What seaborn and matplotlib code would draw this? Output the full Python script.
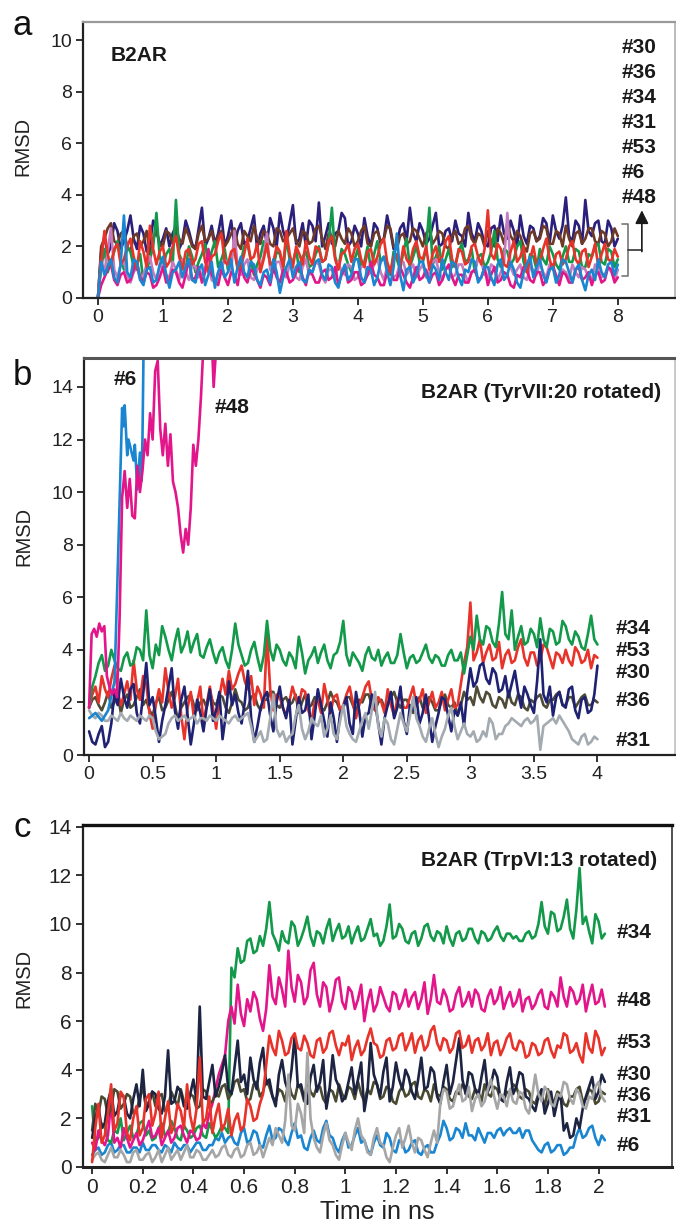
import numpy as np
import matplotlib
matplotlib.use("Agg")
import matplotlib.pyplot as plt
import seaborn as sns

# ---------------- data ----------------
# Panel a : B2AR, 0-8 ns, one value every 0.05 ns
STEP_A = 0.05
a30 = [0.0,1.8, 2.4,1.7, 2.0,2.9, 2.6,1.9, 2.2,2.6, 3.2,2.3, 1.9,2.8, 2.5,1.8, 2.1,3.0, 2.7,2.0,
       2.3,2.7, 2.0,2.5, 2.8,1.9, 2.2,3.0, 2.6,2.1, 1.9,2.7, 3.5,2.0, 2.3,2.8, 2.1,2.5, 3.2,2.0,
       2.4,3.0, 2.0,2.6, 2.9,2.1, 2.2,2.7, 3.2,1.9, 2.5,2.8, 2.1,3.1, 2.7,2.0, 3.3,2.6, 2.2,2.9,
       3.6,2.1, 2.3,2.9, 2.0,3.0, 2.8,2.2, 3.7,2.0, 2.4,2.9, 2.1,2.5, 2.6,3.3, 3.1,2.0, 2.2,2.8,
       2.5,2.0, 3.1,2.4, 2.0,2.9, 2.7,2.1, 2.3,3.2, 2.6,1.9, 2.1,2.7, 2.9,2.2, 3.5,2.5, 2.2,2.9,
       2.6,2.1, 2.3,2.8, 3.3,2.0, 2.1,2.6, 2.7,2.2, 3.0,2.5, 2.4,2.0, 3.3,2.5, 2.2,2.9, 2.6,2.1,
       2.0,2.7, 2.8,2.2, 3.2,2.5, 2.3,3.0, 2.6,2.0, 3.2,2.4, 2.1,2.8, 2.7,2.2, 2.4,3.1, 2.9,2.1,
       3.2,2.6, 2.3,2.8, 3.9,2.4, 2.2,3.0, 2.8,2.1, 3.8,2.6, 2.4,2.9, 3.0,2.2, 2.1,3.0, 2.7,2.0, 2.3]
a36 = [0.0,2.0, 2.3,2.7, 2.9,2.2, 2.1,2.5, 2.6,2.0, 1.8,2.4, 2.5,2.0, 2.2,2.6, 1.7,2.3, 2.6,2.1,
       2.0,2.6, 2.5,2.1, 2.7,2.3, 2.1,2.7, 2.4,2.0, 1.9,2.5, 2.8,2.2, 2.3,2.6, 2.0,2.4, 2.6,2.0,
       2.2,2.5, 2.7,2.1, 1.9,2.6, 2.4,2.2, 2.8,2.3, 2.1,2.6, 2.5,2.1, 2.0,2.7, 2.6,2.2, 2.3,2.5,
       2.7,2.2, 2.0,2.6, 2.5,2.1, 2.2,2.7, 2.8,2.3, 1.9,2.5, 2.4,2.0, 2.6,2.3, 2.1,2.7, 2.5,2.0,
       2.2,2.6, 2.8,2.1, 2.0,2.5, 2.6,2.2, 2.3,2.8, 2.7,2.0, 1.9,2.4, 2.5,2.1, 2.2,2.7, 2.6,2.3,
       2.0,2.5, 2.7,2.1, 2.3,2.6, 2.5,2.0, 1.9,2.4, 2.6,2.1, 2.2,2.7, 2.8,2.3, 2.1,2.5, 2.4,2.0,
       2.6,2.2, 2.0,2.7, 2.5,2.1, 2.9,2.4, 2.2,2.6, 2.4,2.0, 1.8,2.5, 2.6,2.2, 2.3,2.8, 2.7,2.1,
       2.1,2.6, 2.5,2.0, 2.8,2.3, 2.0,2.5, 2.6,2.1, 2.3,2.7, 2.7,2.2, 2.1,2.6, 2.5,2.0, 2.2,2.7, 2.4]
a34 = [0.0,1.2, 1.9,1.0, 1.4,1.8, 2.2,1.5, 1.1,2.0, 1.8,1.2, 1.3,1.7, 0.6,1.1, 1.5,2.0, 3.3,1.6,
       1.2,1.7, 1.9,1.3, 3.8,1.7, 1.4,1.1, 2.0,1.6, 1.0,1.4, 1.7,2.1, 1.3,1.8, 2.2,1.2, 1.5,1.9,
       1.1,1.6, 1.8,1.2, 1.4,2.0, 2.1,1.5, 0.9,1.3, 1.6,2.2, 1.9,1.4, 1.2,1.8, 1.7,1.1, 2.3,1.5,
       1.4,1.9, 1.0,1.6, 1.8,1.2, 1.3,1.7, 2.0,1.4, 1.5,2.1, 3.5,1.6, 1.2,1.9, 1.7,1.3, 1.0,1.5,
       1.9,1.2, 1.4,2.0, 1.1,1.7, 2.2,1.4, 1.6,1.2, 0.9,1.8, 1.5,1.1, 1.8,2.3, 1.2,1.6, 2.0,1.4,
       1.4,1.9, 3.5,1.3, 1.6,2.0, 1.1,1.5, 1.9,1.2, 1.3,1.8, 2.1,1.4, 1.5,1.9, 1.0,1.6, 1.7,1.2,
       1.4,1.8, 2.6,1.5, 1.2,1.9, 1.8,1.3, 1.5,2.0, 2.2,1.4, 1.0,1.7, 1.6,1.1, 1.9,1.5, 1.3,2.0,
       1.7,1.3, 1.1,1.6, 2.0,1.4, 1.4,1.9, 1.8,1.2, 1.2,1.7, 1.6,2.0, 2.1,1.4, 1.3,1.9, 1.8,1.2, 1.5]
a31 = [0.0,1.5, 1.0,1.8, 2.7,1.1, 0.8,1.3, 1.4,0.9, 0.6,1.0, 1.2,0.7, 0.9,1.3, 1.6,1.0, 0.7,1.2,
       1.3,0.9, 0.8,1.4, 1.1,0.7, 1.5,1.0, 0.7,1.3, 1.2,0.8, 0.9,1.2, 1.4,0.7, 0.6,1.0, 1.1,1.5,
       1.3,1.0, 2.6,1.2, 0.9,1.3, 1.5,0.8, 0.7,1.1, 1.2,1.6, 2.5,1.1, 1.0,1.4, 1.4,0.9, 0.8,1.3,
       1.2,0.8, 0.7,1.2, 1.5,0.9, 1.0,1.4, 1.3,0.8, 0.6,1.1, 1.1,0.7, 1.4,1.0, 0.9,1.3, 1.2,0.7,
       0.8,1.2, 1.3,0.9, 1.0,1.3, 1.5,1.0, 0.7,1.2, 1.2,0.8, 0.9,1.4, 1.4,0.9, 1.1,1.3, 0.8,1.1,
       1.3,0.8, 1.0,1.4, 1.5,1.0, 0.7,1.1, 1.2,0.8, 0.9,1.3, 1.3,0.9, 0.6,1.0, 1.1,1.5, 1.4,0.9,
       0.8,1.3, 1.2,0.7, 1.0,1.4, 3.3,1.2, 0.9,1.1, 1.3,0.8, 0.7,1.2, 1.1,0.9, 1.4,1.0, 0.8,1.3,
       1.2,0.9, 0.6,1.1, 1.0,0.7, 1.3,1.0, 0.8,1.2, 1.1,0.8, 0.7,1.3, 1.2,0.8, 0.9,1.2, 1.0,0.7, 1.1]
a53 = [0.0,1.4, 2.6,1.7, 1.2,1.9, 2.1,1.3, 1.5,2.0, 2.3,1.6, 1.1,2.2, 1.8,1.2, 2.8,1.9, 1.3,1.8,
       2.0,1.2, 1.4,2.0, 2.4,1.6, 1.1,1.8, 1.9,1.3, 1.5,2.1, 2.2,1.4, 1.0,1.6, 1.7,2.2, 2.5,1.4,
       1.3,1.8, 1.9,1.1, 1.2,1.7, 2.3,1.5, 1.6,2.1, 1.0,1.5, 2.1,1.3, 1.4,2.0, 1.8,1.2, 2.6,1.7,
       1.2,2.0, 1.7,1.3, 2.2,1.6, 1.3,2.0, 1.9,1.4, 1.5,2.2, 2.4,1.5, 1.1,1.7, 1.8,2.1, 1.4,1.9,
       2.1,1.5, 1.2,1.8, 1.9,1.3, 1.6,2.1, 2.3,1.4, 1.0,1.6, 1.7,1.2, 2.0,1.5, 1.3,1.9, 2.2,1.6,
       1.5,2.0, 1.1,1.7, 2.0,1.4, 1.6,2.2, 2.4,1.5, 1.2,1.9, 1.8,1.3, 1.4,2.0, 2.1,1.6, 1.3,1.9,
       3.4,1.7, 1.5,2.1, 1.9,1.3, 1.2,1.8, 2.2,1.4, 1.6,2.0, 1.0,1.5, 2.0,1.3, 1.4,1.9, 2.3,1.5,
       1.1,1.7, 1.8,1.3, 1.5,2.0, 2.2,1.5, 1.3,1.8, 1.9,1.2, 1.6,2.1, 1.2,1.7, 2.1,1.5, 1.4,1.9, 1.6]
a48 = [0.0,0.5, 0.8,1.1, 1.3,0.7, 0.5,0.9, 1.0,0.6, 0.7,1.1, 1.4,0.8, 0.6,1.0, 0.9,0.4, 0.5,0.8,
       1.2,0.6, 0.7,1.1, 1.0,0.6, 0.4,0.9, 1.5,0.7, 0.8,1.2, 0.6,1.0, 1.9,0.9, 0.7,0.5, 1.1,0.8,
       0.5,1.0, 0.9,0.5, 1.3,0.8, 0.6,1.1, 1.0,0.7, 0.4,0.9, 0.8,0.5, 1.2,0.8, 0.6,1.1, 1.0,0.6,
       0.7,1.0, 1.3,0.8, 0.5,1.1, 0.9,0.6, 0.6,1.0, 1.1,0.7, 0.8,1.2, 0.5,0.9, 1.2,0.6, 0.7,1.0,
       1.0,0.5, 0.6,0.9, 1.4,0.9, 0.8,0.5, 0.5,1.0, 1.1,0.7, 0.7,1.2, 0.9,0.6, 0.4,0.8, 1.2,0.7,
       0.8,1.1, 0.6,0.9, 1.0,0.5, 0.7,1.1, 1.3,0.8, 0.5,0.9, 0.9,0.6, 0.6,1.0, 1.1,0.7, 0.8,1.2,
       0.5,0.9, 1.2,0.6, 0.7,1.0, 0.9,0.5, 0.4,0.9, 0.8,1.2, 1.1,0.7, 0.6,1.0, 1.0,0.5, 0.7,1.1,
       1.3,0.8, 0.5,1.0, 0.9,0.6, 0.6,1.1, 1.2,0.7, 0.8,1.0, 0.5,0.9, 1.0,0.6, 0.7,1.2, 1.1,0.6, 0.8]
a6 = [0.0,1.4, 0.9,1.2, 1.5,0.8, 0.6,1.3, 3.2,1.0, 0.8,1.5, 1.4,0.7, 0.5,1.1, 1.2,0.6, 0.7,1.3,
      1.6,0.9, 0.4,1.0, 1.1,1.4, 0.8,1.2, 1.5,0.7, 0.6,1.1, 1.3,0.5, 0.9,1.4, 0.4,1.0, 1.4,0.8,
      1.0,1.5, 0.6,1.2, 1.6,1.0, 0.8,1.4, 1.3,0.7, 0.5,1.0, 1.1,0.6, 1.5,1.0, 0.2,0.8, 1.2,1.5,
      0.8,1.2, 1.4,0.7, 0.6,1.1, 1.0,1.4, 1.5,0.9, 0.7,1.3, 1.2,0.6, 0.4,1.0, 1.3,0.7, 0.9,1.5,
      1.5,0.8, 0.6,1.2, 1.1,0.5, 0.8,1.4, 1.6,1.0, 0.5,1.2, 2.5,0.9, 0.3,1.1, 1.2,0.6, 0.9,1.4,
      1.4,0.9, 0.6,1.3, 1.1,0.7, 1.5,1.0, 0.7,1.4, 1.3,0.8, 0.5,1.1, 1.0,1.5, 1.4,0.6, 0.8,1.2,
      1.2,0.8, 0.5,1.3, 1.5,0.7, 0.9,1.4, 1.1,0.6, 0.4,1.0, 1.3,1.6, 0.8,1.2, 1.5,0.9, 0.6,1.1,
      1.2,0.6, 0.9,1.5, 1.4,1.0, 0.6,1.1, 1.3,0.7, 0.3,0.9, 1.1,0.7, 1.5,1.0, 0.8,1.3, 1.4,0.9, 1.3]

# Panel b : B2AR (TyrVII:20 rotated), 0-4 ns, one value every 0.025 ns
STEP_B = 0.025
b36 = [1.8,2.1, 2.2,1.9, 1.7,2.0, 2.4,1.8, 2.0,2.3, 1.6,2.1, 2.3,1.8, 1.9,2.2, 2.5,1.9, 2.1,1.7,
       1.5,2.0, 2.2,1.7, 1.8,2.1, 2.4,1.9, 1.3,1.8, 2.0,2.2, 2.3,1.9, 1.7,2.0, 2.1,1.8, 2.4,2.0,
       1.9,2.3, 2.2,1.8, 1.6,2.0, 2.5,2.1, 2.0,1.7, 1.8,2.2, 2.3,1.9, 1.7,2.1, 2.1,2.4, 2.4,1.9,
       1.8,2.1, 2.2,1.9, 2.0,2.3, 1.6,2.0, 2.3,1.8, 1.9,2.2, 2.1,1.8, 1.7,2.0, 2.4,2.1, 2.0,1.7,
       1.8,2.2, 2.2,1.9, 1.6,2.1, 2.0,2.3, 2.3,1.9, 1.7,2.0, 2.1,1.8, 1.9,2.2, 2.4,2.0, 1.8,2.1,
       2.1,1.8, 1.6,2.0, 2.2,1.8, 1.9,2.2, 2.0,1.7, 1.7,2.1, 2.3,1.9, 1.8,2.0, 1.5,1.9, 2.4,2.1,
       2.2,1.9, 2.6,2.2, 2.0,2.4, 2.3,1.9, 1.8,2.2, 2.1,1.8, 2.4,2.0, 1.9,2.3, 2.2,1.8, 1.7,2.1,
       2.0,2.2, 2.3,1.9, 1.8,2.1, 2.1,2.3, 2.4,1.9, 1.9,2.2, 2.2,1.8, 2.0,2.2, 2.3,1.9, 1.9,2.1, 2.0]
b53 = [1.8,2.3, 2.6,2.0, 3.0,2.5, 2.2,2.9, 3.4,2.4, 1.9,2.3, 2.8,2.1, 3.6,2.5, 2.1,3.0, 2.7,1.6,
       1.0,1.9, 2.5,2.0, 3.3,2.4, 1.8,2.2, 2.9,1.5, 0.6,1.8, 2.4,1.4, 2.0,2.6, 1.2,1.9, 2.6,1.8,
       1.0,2.2, 2.9,2.3, 3.2,2.5, 2.7,3.1, 3.4,2.8, 2.5,3.0, 1.9,2.6, 2.3,1.8, 4.6,2.5, 1.7,2.3,
       2.2,1.8, 1.5,2.0, 2.6,2.2, 1.9,2.5, 2.4,1.7, 1.3,2.0, 2.1,1.6, 2.7,2.1, 1.6,2.2, 2.3,1.7,
       1.9,2.3, 2.6,2.0, 1.4,1.9, 2.2,2.6, 2.8,2.1, 1.7,2.2, 2.0,1.6, 2.5,1.9, 1.5,2.1, 2.3,1.8,
       1.8,2.2, 2.6,1.9, 2.1,2.5, 1.6,2.0, 2.4,1.8, 2.0,2.4, 1.7,2.1, 2.5,1.8, 1.9,2.7, 3.5,4.1,
       5.8,3.6, 3.9,4.4, 3.5,3.9, 4.2,3.6, 3.7,4.3, 3.3,3.8, 4.0,3.5, 3.6,4.1, 4.4,3.7, 3.4,3.9,
       3.9,3.4, 3.6,4.2, 4.1,3.7, 3.3,3.9, 3.8,3.5, 4.0,3.6, 3.4,4.1, 3.9,3.5, 3.6,4.0, 3.3,3.8, 3.7]
b30 = [0.9,0.5, 0.4,0.8, 1.1,0.3, 0.5,1.2, 2.4,1.9, 2.9,2.2, 1.8,2.5, 2.7,1.6, 1.2,2.3, 3.5,1.9,
       2.2,1.4, 0.5,1.3, 1.9,2.6, 3.3,1.7, 1.0,2.1, 2.6,1.5, 0.4,1.2, 2.1,1.6, 0.9,1.8, 2.5,1.3,
       1.7,2.4, 0.6,1.5, 2.8,1.9, 2.3,1.6, 1.2,2.0, 3.2,1.4, 0.5,1.1, 1.8,2.2, 2.4,1.5, 0.9,2.0,
       2.6,1.8, 1.4,2.1, 0.4,1.3, 2.2,1.6, 1.7,2.3, 0.6,1.5, 2.5,1.9, 1.3,0.7, 2.0,1.4, 0.5,1.6,
       1.8,2.2, 1.2,0.8, 2.4,1.7, 0.7,1.5, 1.6,2.3, 2.0,1.2, 0.4,1.4, 1.9,2.4, 1.4,1.8, 2.6,1.3,
       0.8,1.9, 1.7,2.2, 1.2,1.6, 2.3,1.4, 0.5,1.1, 1.6,2.2, 2.1,1.5, 0.9,1.7, 1.5,2.0, 1.1,2.4,
       3.3,2.6, 2.8,3.4, 3.5,2.9, 2.7,3.3, 3.1,2.4, 2.5,3.0, 2.2,2.7, 3.2,2.4, 1.8,2.6, 2.3,1.9,
       1.6,2.8, 4.4,2.3, 2.0,2.6, 1.5,2.2, 2.4,1.9, 1.8,2.5, 2.6,1.7, 1.4,2.1, 2.2,1.6, 1.7,2.3, 3.4]
b31 = [1.7,1.5, 1.4,1.6, 1.5,1.3, 1.3,1.5, 1.4,1.3, 1.6,1.4, 1.3,1.5, 1.4,1.3, 1.5,1.4, 1.3,1.5,
       1.4,0.9, 0.6,0.7, 0.8,1.2, 1.4,1.5, 1.3,1.4, 1.5,1.3, 1.4,1.5, 1.2,1.4, 1.4,1.3, 1.5,1.4,
       1.3,1.5, 1.4,1.3, 1.2,1.4, 1.5,1.3, 1.4,1.5, 1.6,1.1, 0.5,0.7, 0.9,0.5, 0.6,1.4, 2.3,1.0,
       0.7,0.9, 0.5,0.7, 0.8,1.5, 1.9,1.0, 0.6,0.9, 1.4,1.2, 1.1,1.5, 0.7,1.0, 1.5,0.8, 0.6,1.3,
       1.9,1.1, 0.8,0.6, 0.5,0.9, 1.3,1.6, 1.0,1.7, 2.4,1.1, 0.7,1.4, 1.2,0.6, 0.4,1.0, 1.6,1.2,
       0.9,1.5, 2.2,1.4, 1.1,0.7, 0.5,1.0, 1.4,0.8, 0.3,0.7, 1.0,1.5, 1.8,1.1, 0.6,0.9, 1.2,0.8,
       0.7,0.9, 0.5,0.6, 0.9,0.7, 1.4,1.2, 0.6,0.8, 0.8,1.1, 1.2,1.4, 1.3,1.2, 1.1,1.3, 1.4,1.2,
       1.3,1.5, 0.2,1.1, 1.2,1.3, 1.4,1.2, 1.5,1.3, 1.1,0.9, 0.6,0.5, 0.4,0.7, 0.8,0.4, 0.5,0.7, 0.6]
b34 = [1.8,2.6, 3.0,3.5, 3.8,3.2, 3.4,4.0, 3.6,3.3, 3.2,3.7, 3.9,3.4, 3.5,4.1, 4.0,3.6, 5.5,3.8,
       3.3,4.2, 3.8,4.9, 4.5,4.0, 3.6,4.3, 4.8,3.9, 4.2,4.7, 3.9,4.3, 4.6,3.8, 3.7,4.1, 4.4,3.9,
       3.5,3.9, 4.1,3.6, 3.3,4.0, 5.0,4.2, 3.8,3.4, 3.5,4.0, 4.3,3.7, 3.2,3.8, 5.1,4.0, 3.6,4.2,
       4.0,3.6, 3.4,3.9, 3.7,3.3, 4.5,3.9, 3.1,3.6, 3.8,4.1, 3.5,3.9, 4.2,3.6, 3.3,3.8, 3.9,4.3,
       5.1,3.8, 3.4,3.9, 3.7,3.5, 3.2,3.8, 4.1,3.7, 3.6,4.0, 3.4,3.7, 3.9,3.5, 3.5,3.8, 4.6,3.9,
       3.3,3.7, 3.8,3.5, 3.6,3.9, 4.2,3.7, 3.5,3.8, 3.7,3.4, 3.4,3.8, 4.0,3.6, 3.6,3.9, 3.1,3.8,
       4.5,4.0, 5.3,4.4, 4.2,4.9, 4.8,4.3, 4.1,5.0, 6.2,4.6, 4.4,5.5, 4.0,4.5, 4.9,4.2, 4.3,4.8,
       4.6,4.1, 5.2,4.4, 4.1,4.8, 4.7,4.2, 4.3,5.1, 4.9,4.4, 4.2,4.7, 4.5,4.1, 4.0,4.6, 5.3,4.4, 4.2]
t_b6 = [0.0, 0.05, 0.1, 0.15, 0.2, 0.22, 0.24, 0.26, 0.27, 0.28,
        0.3, 0.31, 0.33, 0.35, 0.36, 0.38, 0.4, 0.41, 0.42, 0.43]
b6 = [1.4, 1.6, 1.3, 1.7, 2.8, 6.1, 9.6, 13.2, 12.5, 13.3,
      11.4, 12.0, 11.6, 11.2, 11.8, 10.1, 11.5, 10.4, 12.0, 16.0]
STEP_B48 = 0.02
b48 = [1.8, 4.6, 4.8, 4.5, 5.0, 4.7, 4.9, 3.0, 2.6, 2.3,
       2.5, 2.2, 5.2, 9.8, 10.8, 9.4, 10.5, 9.1, 9.0, 11.0,
       10.0, 10.8, 12.0, 11.4, 13.0, 12.0, 14.6, 15.0, 12.4, 11.4,
       12.6, 11.0, 12.2, 10.4, 10.0, 9.4, 8.4, 7.7, 8.6, 8.0,
       9.4, 11.8, 11.0, 12.0, 13.6, 15.6, 17.0, 17.5, 16.5, 14.0, 15.5]

# Panel c : B2AR (TrpVI:13 rotated), 0-2.025 ns, one value every 0.0125 ns
STEP_C = 0.0125
c34 = [2.5,1.0, 1.2,1.8, 1.6,1.1, 1.0,1.5, 1.4,2.0, 1.1,1.4, 1.7,1.2, 1.3,1.8, 1.9,1.3, 1.5,1.1,
       1.2,1.6, 1.8,1.3, 1.4,1.9, 1.6,1.2, 1.1,1.7, 1.5,1.2, 1.3,1.6, 1.7,1.3, 1.2,1.8, 1.5,1.2,
       1.4,1.7, 1.6,1.4, 8.2,7.8, 9.0,8.4, 8.5,9.3, 9.4,8.8, 8.9,9.5, 9.1,9.8, 10.9,9.6, 9.3,8.9,
       9.7,9.3, 9.2,10.1, 9.9,9.1, 9.4,9.8, 10.3,9.5, 9.1,9.7, 9.6,9.2, 9.8,10.2, 9.3,9.7, 10.0,9.4,
       9.5,9.9, 9.2,9.6, 9.9,9.3, 9.4,9.8, 10.2,9.5, 9.6,9.1, 9.3,9.9, 10.8,9.4, 9.5,10.0, 9.8,9.3,
       9.2,9.6, 9.7,9.1, 9.4,9.9, 10.0,9.5, 9.3,9.7, 9.6,9.2, 9.9,9.4, 9.1,9.6, 9.7,9.3, 9.4,9.8,
       9.8,9.4, 9.2,9.7, 9.6,9.3, 9.4,9.7, 9.9,9.5, 9.3,9.6, 9.6,9.4, 9.5,9.3, 9.3,9.6, 9.7,9.4,
       9.5,10.0, 10.9,9.9, 9.6,10.5, 10.4,9.7, 9.8,10.3, 11.0,9.8, 9.4,10.6, 12.3,10.0, 10.3,9.7, 9.2,10.4,
       10.1,9.4, 9.6]
c48 = [1.0,0.7, 1.5,1.1, 0.9,1.3, 2.7,1.0, 1.2,0.8, 1.6,1.2, 0.8,1.1, 1.4,0.9, 1.1,1.5, 1.9,1.2,
       1.3,1.6, 0.9,1.2, 1.5,1.0, 1.2,1.6, 1.7,1.3, 1.0,1.5, 1.4,1.1, 1.2,1.8, 1.6,2.2, 2.6,3.2,
       3.8,4.2, 4.6,6.0, 6.6,5.9, 7.5,6.3, 5.8,6.9, 6.4,7.2, 6.9,6.1, 5.6,6.5, 8.3,7.0, 6.7,7.8,
       7.3,6.6, 8.9,7.4, 6.8,7.9, 7.6,6.7, 7.0,8.1, 8.4,7.1, 6.6,7.6, 7.4,6.4, 6.9,7.7, 7.8,6.8,
       6.5,7.4, 7.2,6.5, 6.9,7.5, 6.0,6.8, 7.3,6.4, 6.7,7.4, 7.0,6.6, 6.4,7.2, 7.1,6.5, 6.8,7.3,
       6.6,7.0, 7.2,6.5, 6.9,7.6, 6.3,6.9, 7.9,6.8, 6.7,7.3, 7.0,6.4, 6.5,7.1, 7.4,6.6, 6.8,7.2,
       6.6,7.3, 7.1,6.5, 6.4,7.0, 7.3,6.7, 6.9,7.4, 6.5,6.9, 7.2,6.6, 6.8,7.3, 6.4,6.9, 7.0,6.5,
       6.7,7.1, 7.3,6.6, 6.5,7.2, 7.0,6.6, 7.8,7.0, 6.6,7.4, 7.2,6.7, 6.9,7.5, 6.4,7.0, 7.5,6.7,
       6.8,7.3, 6.6]
c53 = [0.2,1.6, 2.6,1.0, 1.3,2.2, 3.4,1.5, 1.8,3.1, 2.9,1.4, 1.1,2.0, 2.5,1.3, 1.6,2.8, 3.0,1.7,
       2.2,3.1, 1.2,2.0, 2.7,1.4, 1.7,2.6, 2.3,1.6, 3.4,2.1, 1.5,2.4, 4.5,1.8, 2.0,2.9, 1.4,2.1,
       2.6,1.5, 1.8,2.4, 1.3,1.9, 2.2,1.5, 1.7,2.8, 2.5,1.9, 2.0,2.6, 3.0,4.2, 5.4,4.9, 4.6,5.6,
       5.2,4.6, 4.7,5.3, 5.5,4.9, 4.8,5.4, 5.1,4.6, 4.5,5.2, 5.3,4.7, 4.9,5.5, 5.6,5.0, 4.6,5.1,
       5.0,5.4, 4.4,4.9, 5.2,4.6, 4.8,5.3, 5.7,5.1, 5.0,4.5, 4.6,5.2, 5.3,4.8, 4.9,5.4, 5.5,4.8,
       5.1,5.5, 4.7,5.2, 5.4,4.8, 5.0,5.6, 5.8,5.1, 4.8,5.3, 5.2,4.7, 4.9,5.5, 5.6,4.9, 5.0,5.4,
       4.7,5.2, 5.3,4.8, 5.0,5.5, 4.6,5.1, 5.2,4.6, 4.9,5.3, 5.5,4.9, 4.8,5.2, 5.1,4.5, 4.6,5.1,
       5.0,4.6, 4.7,5.2, 5.3,4.8, 4.5,5.0, 4.9,5.5, 5.4,4.7, 4.8,5.1, 4.6,4.3, 5.5,4.9, 4.7,5.6,
       5.3,4.6, 4.9]
c30 = [1.2,2.0, 2.5,1.6, 1.8,2.7, 3.2,2.1, 2.3,3.0, 2.9,2.2, 2.0,2.8, 3.4,2.5, 4.0,2.3, 2.6,3.1,
       3.0,2.4, 2.2,2.9, 4.8,2.6, 2.7,3.3, 3.1,2.5, 2.4,3.0, 3.6,2.7, 6.6,2.9, 2.8,3.5, 4.2,2.9,
       3.3,3.9, 4.6,3.2, 3.0,4.1, 5.2,3.5, 3.8,3.0, 4.5,3.6, 3.2,4.3, 4.9,3.4, 3.6,2.9, 2.5,3.8,
       4.4,3.5, 3.1,4.0, 5.4,3.3, 3.4,2.8, 2.6,3.7, 4.2,3.1, 3.5,4.4, 2.4,3.2, 4.6,3.6, 3.3,2.7,
       2.9,3.5, 4.1,3.0, 3.6,4.3, 2.3,3.1, 5.1,3.8, 3.4,2.9, 3.9,4.5, 2.7,3.3, 4.3,3.6, 3.2,4.0,
       3.7,3.1, 2.8,3.6, 4.5,3.2, 3.3,4.1, 3.9,2.9, 2.6,3.5, 4.2,3.0, 3.5,4.4, 5.3,3.6, 3.0,3.9,
       3.8,3.2, 2.9,3.7, 4.4,3.1, 3.4,4.0, 3.7,2.8, 2.7,3.5, 4.1,3.0, 3.3,3.9, 3.8,2.9, 2.8,2.5,
       2.3,2.9, 3.2,2.2, 2.6,3.1, 2.1,2.7, 3.0,1.5, 1.8,1.2, 1.3,2.0, 1.6,2.4, 2.9,3.3, 3.7,2.8,
       3.1,3.8, 3.5]
c36 = [1.5,2.6, 2.2,2.9, 2.8,2.1, 2.4,3.2, 3.1,2.4, 2.6,3.0, 2.9,2.2, 2.3,2.8, 3.3,2.5, 2.7,3.1,
       2.5,2.9, 3.0,2.3, 2.4,3.1, 2.8,2.5, 3.2,2.7, 2.6,3.0, 2.9,2.4, 2.5,3.2, 3.1,2.6, 2.7,3.0,
       2.9,3.3, 3.4,2.8, 3.0,3.5, 3.6,3.1, 3.2,2.7, 2.8,3.4, 3.5,2.9, 3.1,3.6, 3.3,2.9, 2.7,3.2,
       3.1,2.7, 3.5,3.0, 2.8,3.4, 3.2,2.7, 3.6,3.1, 2.9,3.3, 3.3,2.8, 2.6,3.2, 3.1,2.7, 3.4,3.0,
       2.8,3.3, 3.2,2.8, 3.5,3.0, 2.7,3.2, 3.0,3.5, 3.4,2.8, 2.9,3.3, 3.2,2.7, 2.6,3.1, 3.3,2.9,
       3.0,3.4, 3.5,2.9, 2.8,3.2, 3.1,2.7, 3.4,3.0, 2.9,3.3, 3.2,2.8, 2.7,3.1, 3.0,3.4, 3.3,2.9,
       2.8,3.2, 3.1,2.7, 3.4,3.0, 2.9,3.3, 3.2,2.8, 2.7,3.1, 3.0,3.4, 3.3,2.9, 2.8,3.2, 3.1,2.7,
       2.6,3.0, 2.9,2.5, 3.2,2.8, 2.7,3.1, 3.0,2.6, 2.5,2.9, 2.9,3.2, 3.3,2.7, 2.8,3.2, 3.1,2.6,
       2.7,3.1, 3.0]
c31 = [0.3,0.5, 0.6,0.3, 0.2,0.5, 0.8,0.4, 0.4,0.7, 0.5,0.2, 0.2,0.6, 0.7,0.3, 0.3,0.5, 0.6,0.2,
       0.4,0.7, 0.2,0.5, 0.8,0.3, 0.5,0.7, 0.3,0.6, 0.9,0.4, 0.4,0.7, 0.6,0.3, 0.3,0.5, 0.7,0.4,
       0.5,0.8, 0.9,0.5, 0.4,0.7, 0.8,0.4, 0.5,0.9, 1.0,0.5, 0.6,0.9, 0.4,0.8, 1.2,0.9, 1.6,1.3,
       1.0,1.9, 3.8,1.7, 1.5,2.6, 2.2,1.4, 4.7,2.0, 1.2,0.8, 0.6,1.3, 1.8,1.1, 0.9,0.5, 0.3,0.9,
       1.4,1.0, 0.7,1.5, 2.0,1.3, 1.1,0.6, 0.5,1.2, 1.6,1.0, 0.9,0.4, 0.2,0.8, 1.3,1.6, 0.8,1.2,
       1.7,1.0, 0.6,1.2, 1.1,0.7, 0.4,1.0, 1.5,1.0, 2.6,3.2, 3.1,2.4, 2.5,3.0, 3.4,2.7, 2.8,3.3,
       2.3,2.8, 3.0,2.5, 2.7,3.2, 3.6,2.9, 2.4,3.0, 2.9,2.5, 3.2,2.7, 2.6,3.1, 3.0,2.4, 2.2,2.9,
       3.8,3.0, 2.7,3.3, 3.1,2.6, 2.5,3.0, 2.9,3.5, 3.4,2.8, 2.6,3.2, 3.0,2.5, 2.4,2.9, 2.8,3.3,
       3.5,2.9, 2.7]
c6 = [0.5,0.7, 0.8,0.5, 0.6,0.9, 1.0,0.6, 0.7,0.9, 0.9,0.6, 0.6,0.8, 0.8,0.6, 1.0,0.7, 0.7,0.9,
      0.9,0.7, 0.6,0.9, 0.8,0.6, 1.0,0.8, 0.7,0.9, 0.9,0.6, 0.8,1.0, 1.0,0.7, 0.7,0.9, 0.9,1.2,
      1.1,1.4, 1.0,1.2, 1.3,1.0, 0.9,1.4, 1.6,1.0, 1.1,1.5, 1.4,0.9, 0.8,1.3, 1.7,1.1, 1.2,1.6,
      1.5,1.1, 0.9,1.4, 1.8,1.2, 1.3,0.8, 0.7,1.2, 1.5,1.1, 1.0,1.6, 1.9,1.3, 1.2,0.8, 0.6,1.1,
      1.4,0.8, 0.9,1.3, 1.6,1.0, 1.1,0.7, 0.5,1.0, 1.3,0.9, 0.8,1.4, 1.2,0.7, 0.6,1.1, 1.0,0.6,
      0.7,1.0, 1.1,0.6, 0.5,0.8, 0.9,0.6, 0.6,1.0, 1.3,1.9, 1.6,1.1, 1.2,1.6, 1.5,1.2, 1.8,1.3,
      1.3,1.1, 1.6,1.3, 1.0,1.4, 1.4,1.2, 1.5,1.6, 1.3,1.5, 1.6,1.4, 1.4,1.6, 1.2,1.5, 1.5,1.1,
      0.9,0.7, 0.6,0.9, 1.0,0.6, 0.7,0.9, 0.9,0.5, 0.6,0.8, 0.8,1.3, 1.6,1.2, 1.3,1.6, 1.7,1.2,
      0.9,1.3, 1.1]

labels_a = ["#30", "#36", "#34", "#31", "#53", "#6", "#48"]
labels_b = ["#34", "#53", "#30", "#36", "#31"]
labels_c = ["#34", "#48", "#53", "#30", "#36", "#31", "#6"]


def times(series, step):
    return np.arange(len(series)) * step


# ---------------- style ----------------
sns.set_theme(style="ticks")
plt.rcParams["font.family"] = ["Liberation Sans", "DejaVu Sans"]

NAVY_A, NAVY_B, NAVY_C = "#2b1f7c", "#1f2272", "#1c2442"
BROWN_A, OLIVE_B, OLIVE_C = "#6e3a27", "#4e4b36", "#4a4931"
GREEN = "#13994a"
MAUVE, GRAY_B, GRAY_C = "#c47cbf", "#a3aab0", "#a6a6a6"
RED = "#e8332a"
BLUE = "#1a85d0"
MAGENTA = "#e2168a"

fig = plt.figure(figsize=(6.76, 12.27), dpi=100)
W, H = 676.0, 1227.0


def add_ax(l, r, t, b):
    return fig.add_axes([l / W, 1 - b / H, (r - l) / W, (b - t) / H])


axA = add_ax(83, 675, 22, 298)
axB = add_ax(84, 675, 358, 755)
axC = add_ax(83, 672, 825, 1167)

LW = 1.9


def draw(ax, t, y, c, lw=LW):
    sns.lineplot(x=np.asarray(t, float), y=np.asarray(y, float), ax=ax, color=c,
                 lw=lw, estimator=None, sort=False, legend=False)


# panel a
for ys, c in [(a30, NAVY_A), (a36, BROWN_A), (a34, GREEN), (a31, MAUVE),
              (a48, MAGENTA), (a53, RED), (a6, BLUE)]:
    draw(axA, times(ys, STEP_A), ys, c)
# panel b
for ys, c in [(b36, OLIVE_B), (b53, RED), (b30, NAVY_B), (b31, GRAY_B), (b34, GREEN)]:
    draw(axB, times(ys, STEP_B), ys, c)
draw(axB, t_b6, b6, BLUE)
draw(axB, times(b48, STEP_B48), b48, MAGENTA)
# panel c
for ys, c in [(c6, BLUE), (c34, GREEN), (c48, MAGENTA), (c36, OLIVE_C),
              (c30, NAVY_C), (c31, GRAY_C), (c53, RED)]:
    draw(axC, times(ys, STEP_C), ys, c)

# axes limits / ticks
axA.set_xlim(-0.23, 8.88)
axA.set_ylim(0, 10.7)
axA.set_xticks(range(0, 9))
axA.set_yticks(range(0, 11, 2))

axB.set_xlim(-0.04, 4.61)
axB.set_ylim(0, 15.1)
axB.set_xticks([0, 0.5, 1, 1.5, 2, 2.5, 3, 3.5, 4])
axB.set_xticklabels(["0", "0.5", "1", "1.5", "2", "2.5", "3", "3.5", "4"])
axB.set_yticks(range(0, 15, 2))

axC.set_xlim(-0.036, 2.29)
axC.set_ylim(0, 14.07)
axC.set_xticks([0, 0.2, 0.4, 0.6, 0.8, 1, 1.2, 1.4, 1.6, 1.8, 2])
axC.set_xticklabels(["0", "0.2", "0.4", "0.6", "0.8", "1", "1.2", "1.4",
                     "1.6", "1.8", "2"])
axC.set_yticks(range(0, 15, 2))

for ax in (axA, axB, axC):
    ax.tick_params(axis="both", direction="out", length=5, width=1.3,
                   labelsize=14, colors="#222222", pad=3)
    ax.tick_params(top=False, right=False)
    ax.set_xlabel("")
    ax.set_ylabel("RMSD", fontsize=14.5, color="#222222")
    ax.yaxis.set_label_coords(-0.085, 0.55)
    ax.spines["left"].set_color("#222222")
    ax.spines["bottom"].set_color("#222222")
    ax.spines["left"].set_linewidth(1.6)
    ax.spines["bottom"].set_linewidth(1.6)

axA.spines["top"].set_color("#9a9a9a")
axA.spines["right"].set_color("#b0b0b0")
axA.spines["top"].set_linewidth(1.6)
axA.spines["right"].set_linewidth(1.2)
axB.spines["top"].set_color("#555555")
axB.spines["top"].set_linewidth(2.2)
axB.spines["right"].set_color("#c0c0c0")
axB.spines["right"].set_linewidth(1.2)
axC.spines["top"].set_color("#111111")
axC.spines["top"].set_linewidth(2.4)
axC.spines["right"].set_color("#333333")
axC.spines["right"].set_linewidth(1.2)
axC.spines["bottom"].set_linewidth(2.2)
for lab in axC.get_xticklabels() + axC.get_yticklabels():
    lab.set_fontsize(15)

axC.set_xlabel("Time in ns", fontsize=18, color="#222222", labelpad=2)

# ---------------- annotations ----------------
TXT = dict(fontsize=15, fontweight="bold", color="#1a1a1a")
axA.text(0.2, 9.4, "B2AR", ha="left", va="center", **TXT)
ya = [9.73, 8.76, 7.79, 6.82, 5.85, 4.88, 3.91]
for lab, y in zip(labels_a, ya):
    axA.text(8.06, y, lab, ha="left", va="center", **TXT)
# bracket + arrow
axA.plot([8.06, 8.15, 8.15, 8.06], [2.87, 2.87, 0.85, 0.85], color="#777777",
         lw=1.2, clip_on=False)
axA.plot([8.15, 8.37], [1.86, 1.86], color="#333333", lw=1.2, clip_on=False)
axA.annotate("", xy=(8.37, 3.4), xytext=(8.37, 1.80),
             arrowprops=dict(arrowstyle="-|>", color="#1a1a1a", lw=1.2,
                             mutation_scale=20, shrinkA=0, shrinkB=0),
             annotation_clip=False)

axB.text(4.5, 13.8, "B2AR (TyrVII:20 rotated)", ha="right", va="center", **TXT)
axB.text(0.19, 14.3, "#6", ha="left", va="center", **TXT)
axB.text(0.99, 13.2, "#48", ha="left", va="center", **TXT)
yb = [4.83, 3.99, 3.12, 2.09, 0.57]
for lab, y in zip(labels_b, yb):
    axB.text(4.14, y, lab, ha="left", va="center", **TXT)

axC.text(2.23, 12.6, "B2AR (TrpVI:13 rotated)", ha="right", va="center", **TXT)
yc = [9.63, 6.83, 5.14, 3.8, 2.93, 2.08, 0.9]
for lab, y in zip(labels_c, yc):
    axC.text(2.07, y, lab, ha="left", va="center", **TXT)

# panel letters
fig.text(22 / W, 1 - 35 / H, "a", fontsize=25, ha="center", va="baseline", color="#111111")
fig.text(22 / W, 1 - 385 / H, "b", fontsize=25, ha="center", va="baseline", color="#111111")
fig.text(22 / W, 1 - 837 / H, "c", fontsize=25, ha="center", va="baseline", color="#111111")

fig.savefig("out.png", dpi=100)
